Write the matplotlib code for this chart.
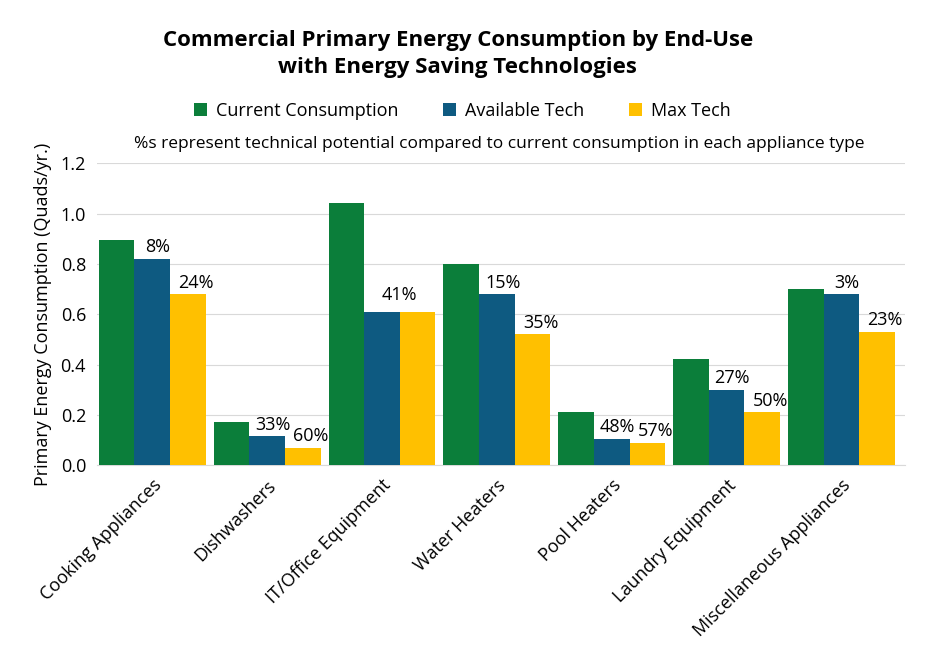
import matplotlib
matplotlib.use("Agg")
import matplotlib.pyplot as plt
import numpy as np

plt.rcParams['font.family'] = ['Open Sans', 'DejaVu Sans']

categories = ["Cooking Appliances", "Dishwashers", "IT/Office Equipment", "Water Heaters",
              "Pool Heaters", "Laundry Equipment", "Miscellaneous Appliances"]
current = [0.895, 0.17, 1.04, 0.80, 0.21, 0.42, 0.70]
available = [0.82, 0.115, 0.61, 0.68, 0.105, 0.30, 0.68]
maxtech = [0.68, 0.07, 0.61, 0.52, 0.09, 0.21, 0.53]
avail_pct = ["8%", "33%", "41%", "15%", "48%", "27%", "3%"]
max_pct = ["24%", "60%", "", "35%", "57%", "50%", "23%"]

fig = plt.figure(figsize=(9.25, 6.58), dpi=100)
ax = fig.add_axes([0.105, 0.293, 0.873, 0.459])
x = np.arange(len(categories))
w = 0.31
c1, c2, c3 = "#0B7E3A", "#0E5A81", "#FFC000"
ax.bar(x - w, current, w, color=c1, label="Current Consumption", zorder=3)
ax.bar(x, available, w, color=c2, label="Available Tech", zorder=3)
ax.bar(x + w, maxtech, w, color=c3, label="Max Tech", zorder=3)
for i in range(len(x)):
    if i == 2:
        ax.text(x[i] + w / 2, available[i] + 0.03, avail_pct[i], ha="center", va="bottom", fontsize=13)
        continue
    ax.text(x[i] + 0.05, available[i] + 0.01, avail_pct[i], ha="center", va="bottom", fontsize=13)
    ax.text(x[i] + w + 0.07, maxtech[i] + 0.01, max_pct[i], ha="center", va="bottom", fontsize=13)

ax.set_ylim(0, 1.2)
ax.set_xlim(-0.48, 6.55)
ax.set_yticks(np.arange(0, 1.21, 0.2))
ax.set_yticklabels([f"{v:.1f}" for v in np.arange(0, 1.21, 0.2)], fontsize=13)
ax.set_xticks(x)
ax.set_xticklabels(categories, rotation=45, ha="right", rotation_mode="anchor", fontsize=13)
ax.tick_params(length=0, pad=8)
ax.grid(axis="y", color="#D9D9D9", zorder=0)
for s in ["top", "right", "left"]:
    ax.spines[s].set_visible(False)
ax.spines["bottom"].set_color("#D9D9D9")
ax.set_ylabel("Primary Energy Consumption (Quads/yr.)", fontsize=13, labelpad=6)

fig.text(0.495, 0.918, "Commercial Primary Energy Consumption by End-Use\nwith Energy Saving Technologies",
         ha="center", va="center", fontsize=16, fontweight="bold", linespacing=1.35)
fig.legend(loc="center", bbox_to_anchor=(0.5, 0.832), ncol=3, frameon=False, fontsize=13,
           handlelength=0.7, handleheight=0.7, columnspacing=2.5, handletextpad=0.5)
fig.text(0.54, 0.781, "%s represent technical potential compared to current consumption in each appliance type",
         ha="center", va="center", fontsize=12.5)
fig.savefig("out.png", dpi=100)
